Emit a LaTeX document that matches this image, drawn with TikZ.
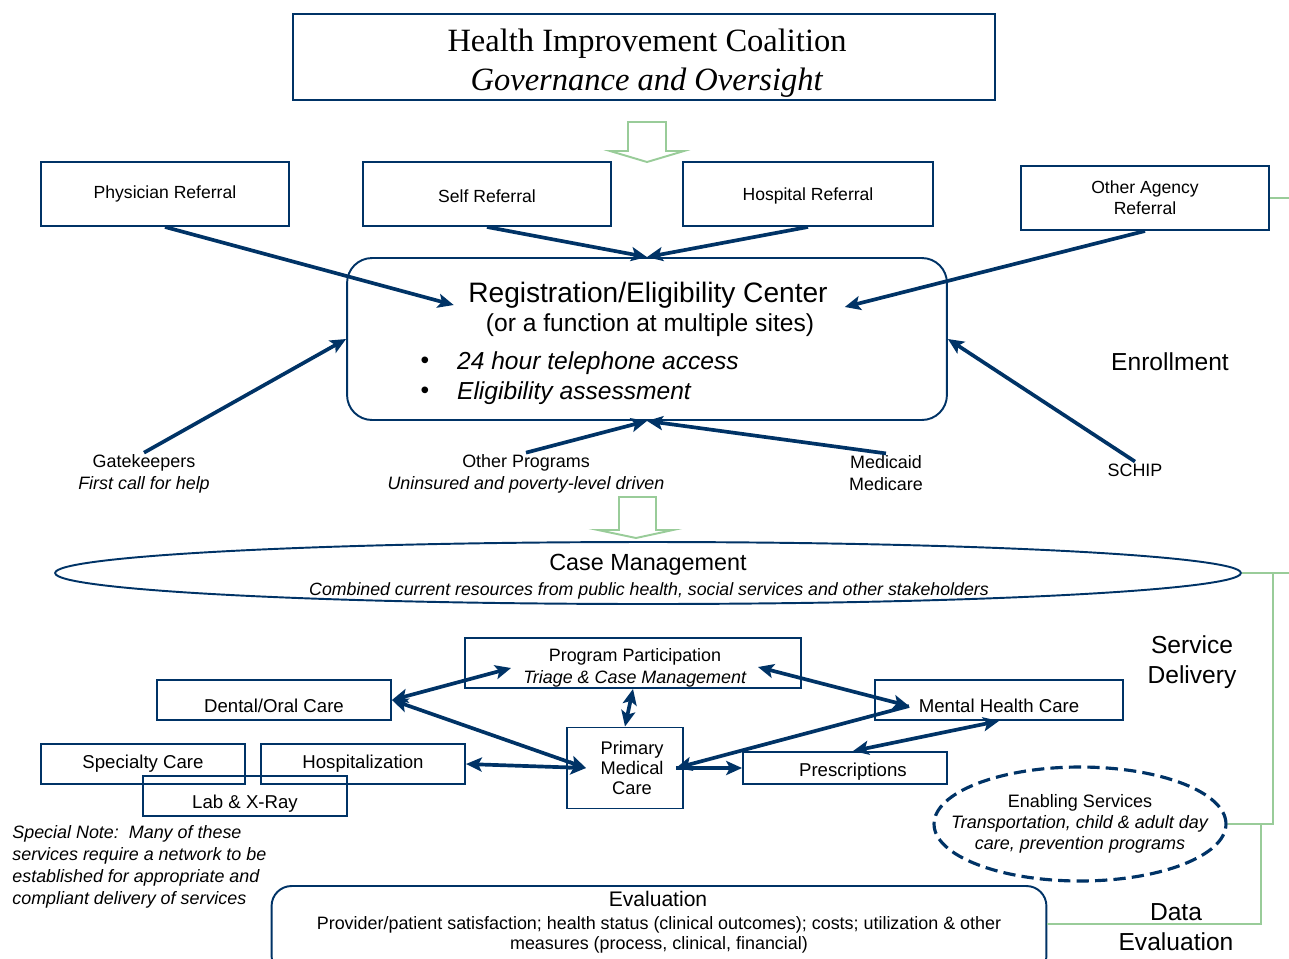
\documentclass[tikz,border=0pt]{standalone}
\usepackage{fontspec}
\setmainfont{Liberation Sans}
\newfontfamily\serifhead{Liberation Serif}
\usetikzlibrary{arrows.meta,shapes.geometric}
\definecolor{navy}{RGB}{0,51,102}
\definecolor{leaf}{RGB}{153,204,153}
\newcommand{\sinktext}[2]{\raisebox{-#1}[\height][\depth]{#2}}

\begin{document}
\begin{tikzpicture}[x=0.02cm,y=-0.02cm,>={Stealth[length=9pt,width=8pt,inset=2pt]}]
    \tikzstyle{box}=[draw=navy,line width=1.1pt,inner sep=0pt,align=center,font=\fontsize{10}{12}\selectfont]
    \tikzstyle{lbl}=[inner sep=1pt,align=center,font=\fontsize{10.2}{12.4}\selectfont]
    \tikzstyle{big}=[inner sep=1pt,align=center,font=\fontsize{14}{17}\selectfont]
    \tikzstyle{link}=[navy,line width=2.1pt]
    \tikzstyle{tie}=[leaf,line width=1.1pt]
    \tikzstyle{hollow}=[leaf,line width=1.1pt,line join=miter]
    \clip (0,0) rectangle (1289,958);

    % governance
    \draw node(gov)at(644,57)[box,minimum width=14.04cm,minimum height=1.72cm]{}
          node(govt)at(647,63)[inner sep=1pt,align=center,font=\serifhead\fontsize{18.5}{22}\selectfont]
          {Health Improvement Coalition\\\textit{Governance and Oversight}};
    \draw[hollow] (628,122)--(666,122)--(666,151)--(684,151)--(647,162)--(610,151)--(628,151)--cycle;

    % referrals
    \draw node(phys)at(165,194)[box,minimum width=4.96cm,minimum height=1.28cm]{Physician Referral}
          node(self)at(487,194)[box,minimum width=4.96cm,minimum height=1.28cm]{\sinktext{1.2pt}{Self Referral}}
          node(hosp)at(808,194)[box,minimum width=5cm,minimum height=1.28cm]{\sinktext{1.2pt}{Hospital Referral}}
          node(agency)at(1145,198)[box,minimum width=4.96cm,minimum height=1.28cm]{Other Agency\\Referral};

    % registration / eligibility
    \draw node(reg)at(647,339)[box,rounded corners=0.5cm,minimum width=12cm,minimum height=3.24cm]{}
          node(regt)at(648,295)[inner sep=1pt,font=\fontsize{16}{19}\selectfont]{Registration/Eligibility Center}
          node(regs)at(650,325)[inner sep=1pt,font=\fontsize{14}{17}\selectfont]{(or a function at multiple sites)}
          node(dot1)at(425,363)[inner sep=1pt,font=\fontsize{14}{17}\selectfont]{•}
          node(dot2)at(425,393)[inner sep=1pt,font=\fontsize{14}{17}\selectfont]{•}
          node(phone)at(455,363)[anchor=west,inner sep=1pt,font=\fontsize{14}{17}\selectfont]{\textit{24 hour telephone access}}
          node(assess)at(455,393)[anchor=west,inner sep=1pt,font=\fontsize{14}{17}\selectfont]{\textit{Eligibility assessment}};
    \draw node(enrol)at(1170,362)[big]{Enrollment}
          node(gate)at(144,474)[lbl]{Gatekeepers\\\textit{First call for help}}
          node(other)at(526,474)[lbl]{Other Programs\\\textit{Uninsured and poverty-level driven}}
          node(medi)at(886,473)[lbl]{Medicaid\\Medicare}
          node(schip)at(1135,470)[lbl]{SCHIP};

    \draw[link,->](phys.south)--([xshift=-0.25cm,yshift=-0.2cm]regt.west);
    \draw[link,->](self.south)--(reg.north);
    \draw[link,->](hosp.south)--(reg.north);
    \draw[link,->](agency.south)--([xshift=0.3cm,yshift=-0.24cm]regt.east);
    \draw[link,->](gate.north)--(reg.west);
    \draw[link,->](schip.north)--(reg.east);
    \draw[link,->](other.north)--(reg.south);
    \draw[link,->](medi.north)--(reg.south);
    \draw[tie](agency.east)--(1289,198) coordinate(rim1);

    % case management
    \draw[hollow] (619,497)--(656,497)--(656,530)--(673,530)--(636,538)--(598,530)--(619,530)--cycle;
    \draw node(caseman)at(648,573)[ellipse,draw=navy,line width=1.1pt,inner sep=0pt,minimum width=23.72cm,minimum height=1.24cm]{}
          node(cmt)at(648,565)[inner sep=1pt,font=\fontsize{13.3}{16}\selectfont]{Case Management}
          node(cms)at(649,591)[inner sep=1pt,font=\fontsize{10.1}{11}\selectfont]{\textit{Combined current resources from public health, social services and other stakeholders}};
    \draw node(serv)at(1192,662)[big]{Service\\Delivery};

    % services
    \draw node(prog)at(633,663)[box,minimum width=6.72cm,minimum height=1cm]{}
          node(progt)at(635,668)[lbl]{Program Participation\\\textit{Triage \& Case Management}}
          node(dental)at(274,700)[box,minimum width=4.68cm,minimum height=0.8cm,font=\fontsize{10.6}{12}\selectfont]{\sinktext{3.4pt}{Dental/Oral Care}}
          node(mental)at(999,700)[box,minimum width=4.96cm,minimum height=0.8cm,font=\fontsize{10.6}{12}\selectfont]{\sinktext{3.4pt}{Mental Health Care}}
          node(special)at(143,764)[box,minimum width=4.08cm,minimum height=0.8cm,font=\fontsize{10.6}{12}\selectfont]{Specialty Care}
          node(hospz)at(363,764)[box,minimum width=4.08cm,minimum height=0.8cm,font=\fontsize{10.6}{12}\selectfont]{Hospitalization}
          node(lab)at(245,796)[box,minimum width=4.08cm,minimum height=0.8cm,font=\fontsize{10.6}{12}\selectfont]{\sinktext{4.5pt}{Lab \& X-Ray}}
          node(primary)at(625,768)[box,minimum width=2.32cm,minimum height=1.62cm,font=\fontsize{10.4}{11.5}\selectfont]{\hspace{8pt}Primary\\\hspace{8pt}Medical\\\hspace{8pt}Care}
          node(presc)at(845,768)[box,minimum width=4.08cm,minimum height=0.64cm,font=\fontsize{10.6}{12}\selectfont]{\sinktext{2.2pt}{\hspace{9pt}Prescriptions}};
    \coordinate(ltip)at([xshift=0.4cm]primary.west);
    \coordinate(rtip)at([xshift=-0.16cm]primary.east);
    \coordinate(mtip)at([xshift=0.7cm,yshift=-0.12cm]mental.west);
    \draw[link,<->](dental.east)--([xshift=0.94cm,yshift=-0.1cm]prog.west);
    \draw[link,<->](dental.east)--(ltip);
    \draw[link,<->](hospz.east)--(ltip);
    \draw[link,<->](prog.south)--(primary.north);
    \draw[link,<->]([xshift=-0.88cm,yshift=-0.08cm]prog.east)--(mtip);
    \draw[link,->](mtip)--(rtip);
    \draw[link,->](rtip)--(presc.west);
    \draw[link,<->](mental.south)--([xshift=0.16cm]presc.north);

    % enabling services
    \draw node(enab)at(1080,824)[ellipse,draw=navy,line width=1.8pt,dash pattern=on 7pt off 3.5pt,inner sep=0pt,minimum width=5.84cm,minimum height=2.28cm]{}
          node(enabt)at(1080,824)[lbl,font=\fontsize{10.25}{12}\selectfont]{Enabling Services\\\textit{Transportation, child \& adult day}\\\textit{care, prevention programs}};
    \draw node(note)at(12,825)[anchor=north west,inner sep=0pt,align=left,font=\itshape\fontsize{10.2}{12.5}\selectfont]
          {Special Note:\ \ Many of these\\services require a network to be\\established for appropriate and\\compliant delivery of services};

    % evaluation
    \draw node(eval)at(659,931)[box,rounded corners=0.4cm,minimum width=15.5cm,minimum height=1.8cm]{}
          node(evt)at(658,899)[inner sep=1pt,font=\fontsize{12}{14}\selectfont]{Evaluation}
          node(evd)at(659,935)[lbl,font=\fontsize{10.2}{11.3}\selectfont]{Provider/patient satisfaction; health status (clinical outcomes); costs; utilization \& other\\measures (process, clinical, financial)}
          node(data)at(1176,927)[big]{Data\\Evaluation};

    % green ties
    \draw[tie](caseman.east)--(1289,573) coordinate(rim2);
    \draw[tie](caseman.east)--(1273,573) coordinate(bend1) |- (enab.east);
    \draw[tie](enab.east)--(1261,824) coordinate(bend2) |- ([yshift=0.14cm]eval.east);
\end{tikzpicture}
\end{document}
